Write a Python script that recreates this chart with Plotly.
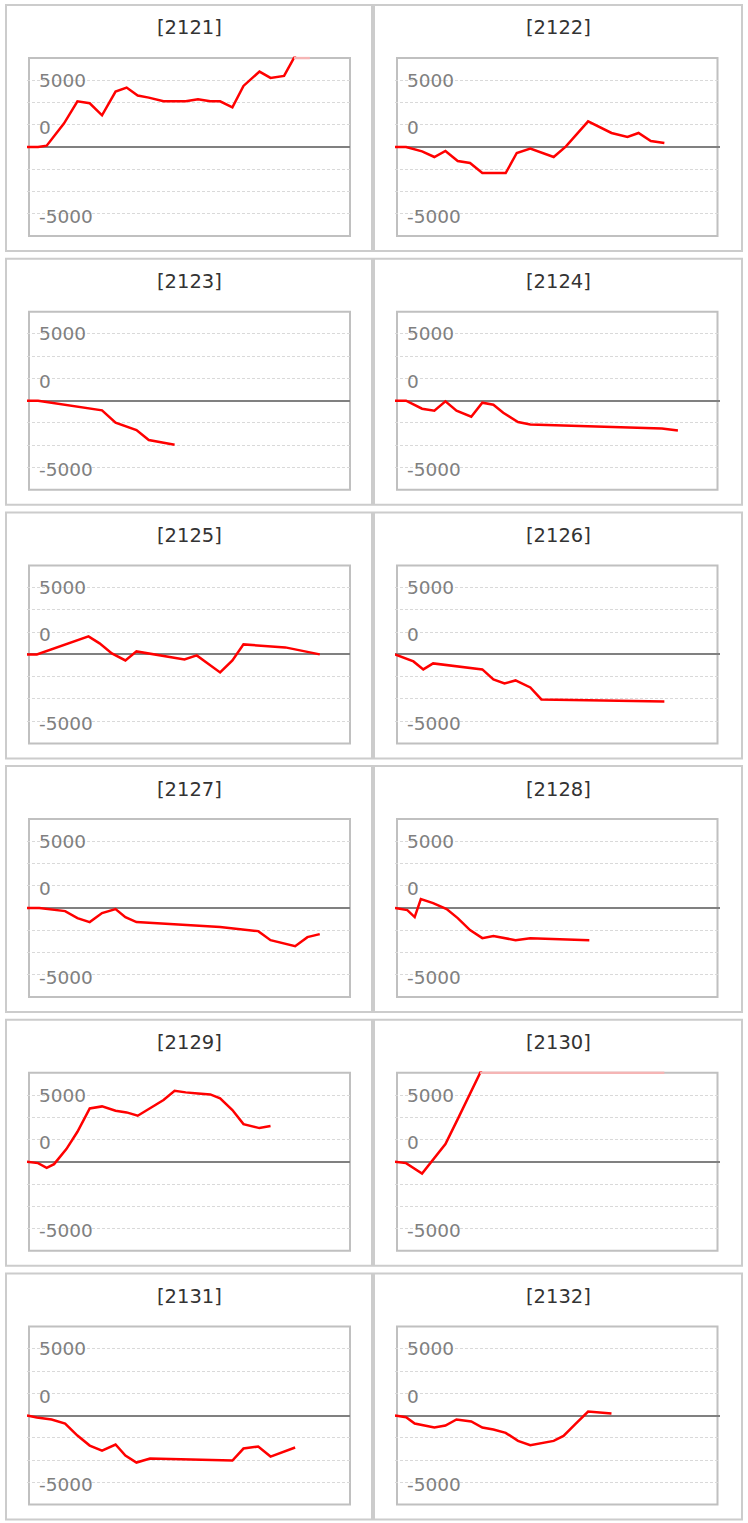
import plotly.graph_objects as go

# ---------------- data ----------------
CODES = ["2121", "2122", "2123", "2124", "2125", "2126",
         "2127", "2128", "2129", "2130", "2131", "2132"]

X_2121 = [0, 0.9, 1.6, 2.2, 3.0, 4.1, 5.1, 6.1, 7.2, 8.1, 9.0, 9.9, 11.1, 12.9, 13.9, 14.9, 15.7, 16.7, 17.6, 18.9, 19.8, 20.9, 21.9, 23.0]
V_2121 = [0, 0, 100, 800, 1750, 3425, 3275, 2375, 4150, 4450, 3850, 3700, 3425, 3425, 3575, 3425, 3425, 2975, 4575, 5650, 5175, 5325, 7000, 7300]

X_2122 = [0, 0.9, 2.2, 3.2, 4.1, 5.1, 6.1, 7.1, 9.0, 9.9, 11.0, 12.9, 13.9, 14.7, 15.7, 17.6, 18.9, 19.8, 20.8, 21.9]
V_2122 = [0, 0, -325, -750, -300, -1050, -1200, -1950, -1950, -450, -125, -750, 50, 875, 1925, 1050, 750, 1050, 450, 300]

X_2123 = [0, 0.9, 6.1, 7.2, 8.9, 9.9, 12.0]
V_2123 = [0, 0, -725, -1650, -2200, -2950, -3300]

X_2124 = [0, 0.9, 2.2, 3.2, 4.1, 5.0, 6.2, 7.1, 8.0, 8.8, 10.0, 11.0, 21.7, 23.0]
V_2124 = [0, 0, -600, -750, -50, -750, -1200, -150, -300, -900, -1600, -1775, -2075, -2225]

X_2125 = [0, 0.8, 5.0, 5.9, 6.9, 8.0, 8.9, 12.0, 12.8, 13.8, 15.7, 16.7, 17.6, 21.0, 23.8]
V_2125 = [0, 0, 1350, 825, 75, -450, 225, -225, -375, -75, -1350, -450, 750, 525, 0]

X_2126 = [0, 0.9, 1.5, 2.3, 3.1, 7.1, 8.0, 8.9, 9.8, 11.0, 11.9, 21.9]
V_2126 = [0, -300, -525, -1125, -675, -1125, -1875, -2175, -1950, -2475, -3375, -3525]

X_2127 = [0, 1.0, 3.1, 4.1, 5.1, 6.1, 7.2, 8.0, 8.9, 15.7, 18.8, 19.8, 21.8, 22.8, 23.8]
V_2127 = [0, 0, -225, -750, -1050, -375, -75, -675, -1050, -1425, -1725, -2400, -2850, -2175, -1950]

X_2128 = [0, 1.0, 1.6, 2.1, 3.1, 4.2, 5.1, 6.1, 7.1, 8.0, 9.8, 11.0, 15.8]
V_2128 = [0, -150, -675, 675, 375, -75, -750, -1650, -2250, -2100, -2400, -2250, -2400]

X_2129 = [0, 0.9, 1.6, 2.2, 3.2, 4.1, 5.1, 6.1, 7.2, 8.1, 9.0, 10.2, 11.1, 12.0, 12.9, 13.9, 14.9, 15.7, 16.7, 17.6, 18.9, 19.8]
V_2129 = [0, -100, -450, -175, 950, 2250, 4000, 4150, 3825, 3700, 3450, 4125, 4625, 5325, 5200, 5125, 5050, 4750, 3875, 2825, 2525, 2675]

X_2130 = [0, 0.9, 2.2, 4.1, 5.1, 6.2, 7.1, 9.0, 21.9]
V_2130 = [0, -100, -875, 1325, 3200, 5325, 7000, 8000, 8500]

X_2131 = [0, 0.8, 2.0, 3.1, 4.1, 5.1, 6.1, 7.2, 8.0, 8.9, 10.0, 16.7, 17.6, 18.8, 19.8, 21.8]
V_2131 = [0, -150, -300, -600, -1500, -2250, -2625, -2175, -3000, -3525, -3225, -3375, -2475, -2325, -3075, -2400]

X_2132 = [0, 0.9, 1.6, 3.2, 4.1, 5.0, 6.2, 7.1, 8.0, 9.0, 10.0, 11.0, 12.9, 13.7, 14.7, 15.7, 17.6]
V_2132 = [0, -125, -600, -900, -750, -300, -450, -900, -1050, -1300, -1900, -2225, -1900, -1525, -600, 300, 150]

SERIES_X = [X_2121, X_2122, X_2123, X_2124, X_2125, X_2126,
            X_2127, X_2128, X_2129, X_2130, X_2131, X_2132]
SERIES_V = [V_2121, V_2122, V_2123, V_2124, V_2125, V_2126,
            V_2127, V_2128, V_2129, V_2130, V_2131, V_2132]

TICK_TEXT = ["5000", "0", "-5000"]

# ---------------- layout constants ----------------
W, H = 748, 1523
ROW_PITCH = 253.7
Y_TOP = 6666.7           # value at the plot frame's top edge
GRID_STEP = Y_TOP / 4
PX_PER_X = 12.3
TICK_POS = [5000, 1460, -5170]   # where the reference draws its labels

COL_AXIS = [(27, 350), (395, 720)]     # axis domain (px)
COL_FRAME = [(29, 350), (397, 717.5)]  # plot frame (px)
COL_BOX = [(6, 372), (374, 742)]       # outer panel box (px)
FRAME_T, FRAME_B = 58, 236
EXT = 1.5  # extra px so clipped line on the frame edge shows


def px(x):
    return x / W


def py(y):
    return 1 - y / H


def over_top(xs, vs, top):
    ox, oy = [], []
    for i in range(len(xs) - 1):
        x0, v0, x1, v1 = xs[i], vs[i], xs[i + 1], vs[i + 1]
        if v0 <= top and v1 <= top:
            continue
        a = x0 if v0 > top else x0 + (top - v0) / (v1 - v0) * (x1 - x0)
        b = x1 if v1 > top else x0 + (top - v0) / (v1 - v0) * (x1 - x0)
        ox += [a, b, None]
        oy += [top, top, None]
    return ox, oy


fig = go.Figure()
shapes, annotations = [], []
layout = {}
grid_vals = [k * GRID_STEP for k in (-3, -2, -1, 1, 2, 3)]
yr = Y_TOP * (89 + EXT) / 89

for i, code in enumerate(CODES):
    r, c = divmod(i, 2)
    off = r * ROW_PITCH
    n = i + 1
    xa = "xaxis" if n == 1 else f"xaxis{n}"
    ya = "yaxis" if n == 1 else f"yaxis{n}"
    xr = "x" if n == 1 else f"x{n}"
    yrf = "y" if n == 1 else f"y{n}"
    ax0, ax1 = COL_AXIS[c]
    layout[xa] = dict(domain=[px(ax0), px(ax1)], range=[0, (ax1 - ax0) / PX_PER_X],
                      showgrid=False, zeroline=False, showticklabels=False,
                      showline=False, ticks="", anchor=yrf, fixedrange=True)
    layout[ya] = dict(domain=[py(FRAME_B + EXT + off), py(FRAME_T - EXT + off)],
                      range=[-yr, yr], tickmode="array", tickvals=grid_vals,
                      showticklabels=False, ticks="", showgrid=True,
                      gridcolor="#d9d9d9", griddash="3px,2px", gridwidth=1,
                      zeroline=True, zerolinecolor="#808080", zerolinewidth=2,
                      showline=False, anchor=xr, fixedrange=True)

    xs, vs = SERIES_X[i], SERIES_V[i]
    fig.add_trace(go.Scatter(x=xs, y=vs, mode="lines", xaxis=xr, yaxis=yrf,
                             line=dict(color="#ff0000", width=2.5),
                             showlegend=False, hoverinfo="skip"))
    ox, oy = over_top(xs, vs, Y_TOP)
    if ox:
        fig.add_trace(go.Scatter(x=ox, y=oy, mode="lines", xaxis=xr, yaxis=yrf,
                                 line=dict(color="#f5b5b5", width=2.5),
                                 showlegend=False, hoverinfo="skip"))

    # outer panel box
    bx0, bx1 = COL_BOX[c]
    shapes.append(dict(type="rect", xref="paper", yref="paper", layer="below",
                       x0=px(bx0), x1=px(bx1), y0=py(251 + off), y1=py(5 + off),
                       line=dict(color="#cccccc", width=2)))
    # plot frame
    fx0, fx1 = COL_FRAME[c]
    shapes.append(dict(type="rect", xref="paper", yref="paper", layer="below",
                       x0=px(fx0), x1=px(fx1), y0=py(FRAME_B + off), y1=py(FRAME_T + off),
                       line=dict(color="#c0c0c0", width=2)))
    # title
    annotations.append(dict(text=f"[{code}]", xref="paper", yref="paper",
                            x=px((bx0 + bx1) / 2), y=py(28 + off),
                            xanchor="center", yanchor="middle", showarrow=False,
                            font=dict(family="DejaVu Sans", size=19.5, color="#333333")))
    # y labels
    for t, pos in zip(TICK_TEXT, TICK_POS):
        annotations.append(dict(text=t, xref=f"{xr} domain", yref=yrf,
                                x=10 / (ax1 - ax0), y=pos, xanchor="left",
                                yanchor="middle", showarrow=False,
                                font=dict(family="DejaVu Sans", size=18.5, color="#808080")))

fig.update_layout(width=W, height=H, margin=dict(l=0, r=0, t=0, b=0),
                  paper_bgcolor="white", plot_bgcolor="rgba(0,0,0,0)",
                  shapes=shapes, annotations=annotations, showlegend=False,
                  **layout)
fig.write_html("out.html", config={"displayModeBar": False},
               post_script="document.body.style.margin='0';document.body.style.overflow='hidden';")
